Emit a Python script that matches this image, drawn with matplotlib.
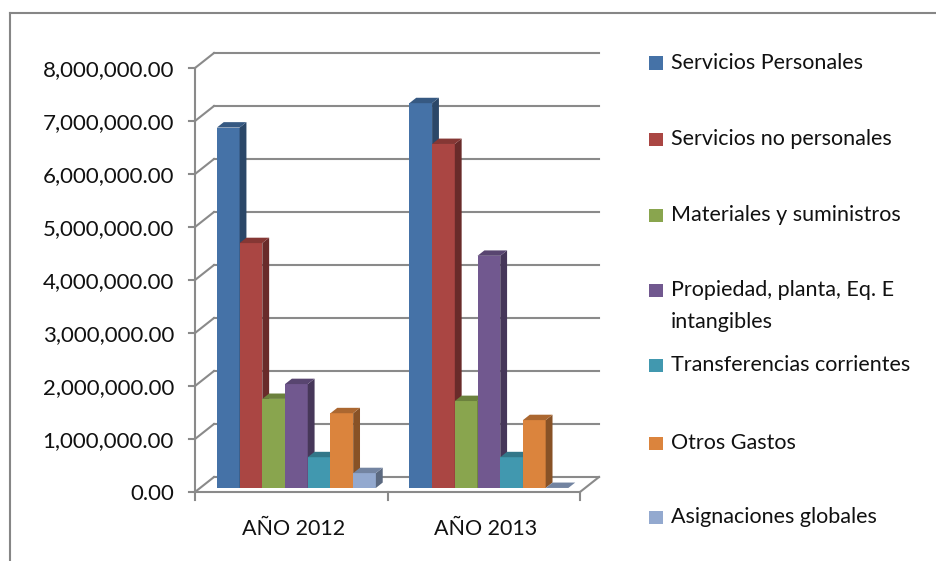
import numpy as np
import matplotlib
matplotlib.use("Agg")
import matplotlib.pyplot as plt
from matplotlib.patches import Polygon, Rectangle
from matplotlib.lines import Line2D
from matplotlib.colors import to_rgb

plt.rcParams['font.family'] = ['Lato', 'DejaVu Sans']

categories = ['AÑO 2012', 'AÑO 2013']
series = ['Servicios Personales', 'Servicios no personales', 'Materiales y suministros',
          'Propiedad, planta, Eq. E\nintangibles', 'Transferencias corrientes',
          'Otros Gastos', 'Asignaciones globales']
values_2012 = [6800000, 4620000, 1680000, 1960000, 580000, 1410000, 280000]
values_2013 = [7260000, 6490000, 1640000, 4380000, 580000, 1280000, 0]
colors = ['#4572A7', '#AA4643', '#89A54E', '#71588F', '#4198AF', '#DB843D', '#93A9CF']
yticks = np.arange(0, 8000001, 1000000)

W, H = 936, 561
fig = plt.figure(figsize=(W / 100, H / 100), dpi=100)
# front plane: x 0..2 -> px 195..580, y 0..8M -> px 492..68
ax = fig.add_axes([195 / W, (H - 492) / H, 385 / W, 424 / H])
ax.set_xlim(0, 2)
ax.set_ylim(0, 8000000)
ax.axis('off')

px_x = 2 / 385
px_y = 8000000 / 424
DX = 19 * px_x        # depth offset of back wall
DY = 15 * px_y
grid_c = '#8a8a8a'
lw = 1.5
fs = 15.5

# back wall gridlines, side wall diagonals, y ticks and labels
for v in yticks:
    ax.plot([DX, 2 + DX], [v + DY, v + DY], color=grid_c, lw=lw, clip_on=False, zorder=1)
    ax.plot([0, DX], [v, v + DY], color=grid_c, lw=lw, clip_on=False, zorder=1)
    ax.plot([-6 * px_x, 0], [v, v], color=grid_c, lw=lw, clip_on=False, zorder=1)
    ax.text(-21 * px_x, v - 2 * px_y, f'{v:,.2f}', ha='right', va='center',
            fontsize=16, color='#111111')

ax.plot([0, 0], [0, 8000000], color=grid_c, lw=lw, clip_on=False, zorder=1)
ax.plot([0, 2], [0, 0], color=grid_c, lw=lw, clip_on=False, zorder=1)
ax.plot([2, 2 + DX], [0, DY], color=grid_c, lw=lw, clip_on=False, zorder=1)
for c in range(3):
    ax.plot([c, c], [0, -8 * px_y], color=grid_c, lw=lw, clip_on=False, zorder=1)
for c, cat in enumerate(categories):
    ax.text(c + 0.5 + 0.01, -37 * px_y, cat, ha='center', va='center', fontsize=fs, color='#111111')

# pseudo 3-D bars
n = len(series)
bw = 0.118
f0 = 0.27                   # depth fraction of the bar front face
fd = 0.36                   # bar depth as fraction of wall depth
def shade(col, k):
    r, g, b = to_rgb(col)
    return (r * k, g * k, b * k)

for c, vals in enumerate([values_2012, values_2013]):
    start = c + (1 - n * bw) / 2
    for i, v in enumerate(vals):
        x0 = start + i * bw + f0 * DX
        y0 = f0 * DY
        ddx, ddy = fd * DX, fd * DY
        ax.bar(x0, v, width=bw, bottom=y0, align='edge', color=colors[i],
               linewidth=0, zorder=2 + i)
        side = [(x0 + bw, y0), (x0 + bw + ddx, y0 + ddy),
                (x0 + bw + ddx, y0 + v + ddy), (x0 + bw, y0 + v)]
        top = [(x0, y0 + v), (x0 + bw, y0 + v),
               (x0 + bw + ddx, y0 + v + ddy), (x0 + ddx, y0 + v + ddy)]
        ax.add_patch(Polygon(side, closed=True, color=shade(colors[i], 0.62),
                             lw=0, zorder=2 + i, clip_on=False))
        ax.add_patch(Polygon(top, closed=True, color=shade(colors[i], 0.78),
                             lw=0, zorder=2 + i, clip_on=False))

# legend, laid out like the spreadsheet legend
leg_y = [63, 139, 215, 290, 365, 443, 517]
for name, col, y in zip(series, colors, leg_y):
    fig.add_artist(Rectangle((649 / W, (H - y - 6.5) / H), 14 / W, 13 / H,
                             color=col, lw=0, transform=fig.transFigure))
    for k, line in enumerate(name.split('\n')):
        fig.text(671 / W, (H - y - 32 * k) / H, line, ha='left', va='center',
                 fontsize=fs, color='#111111')

# outer chart border (left and top visible)
fig.add_artist(Line2D([10 / W, 10 / W], [0, (H - 13) / H], color='#868686', lw=1.5))
fig.add_artist(Line2D([10 / W, 1], [(H - 13) / H, (H - 13) / H], color='#868686', lw=1.5))

fig.savefig('out.png', dpi=100)
